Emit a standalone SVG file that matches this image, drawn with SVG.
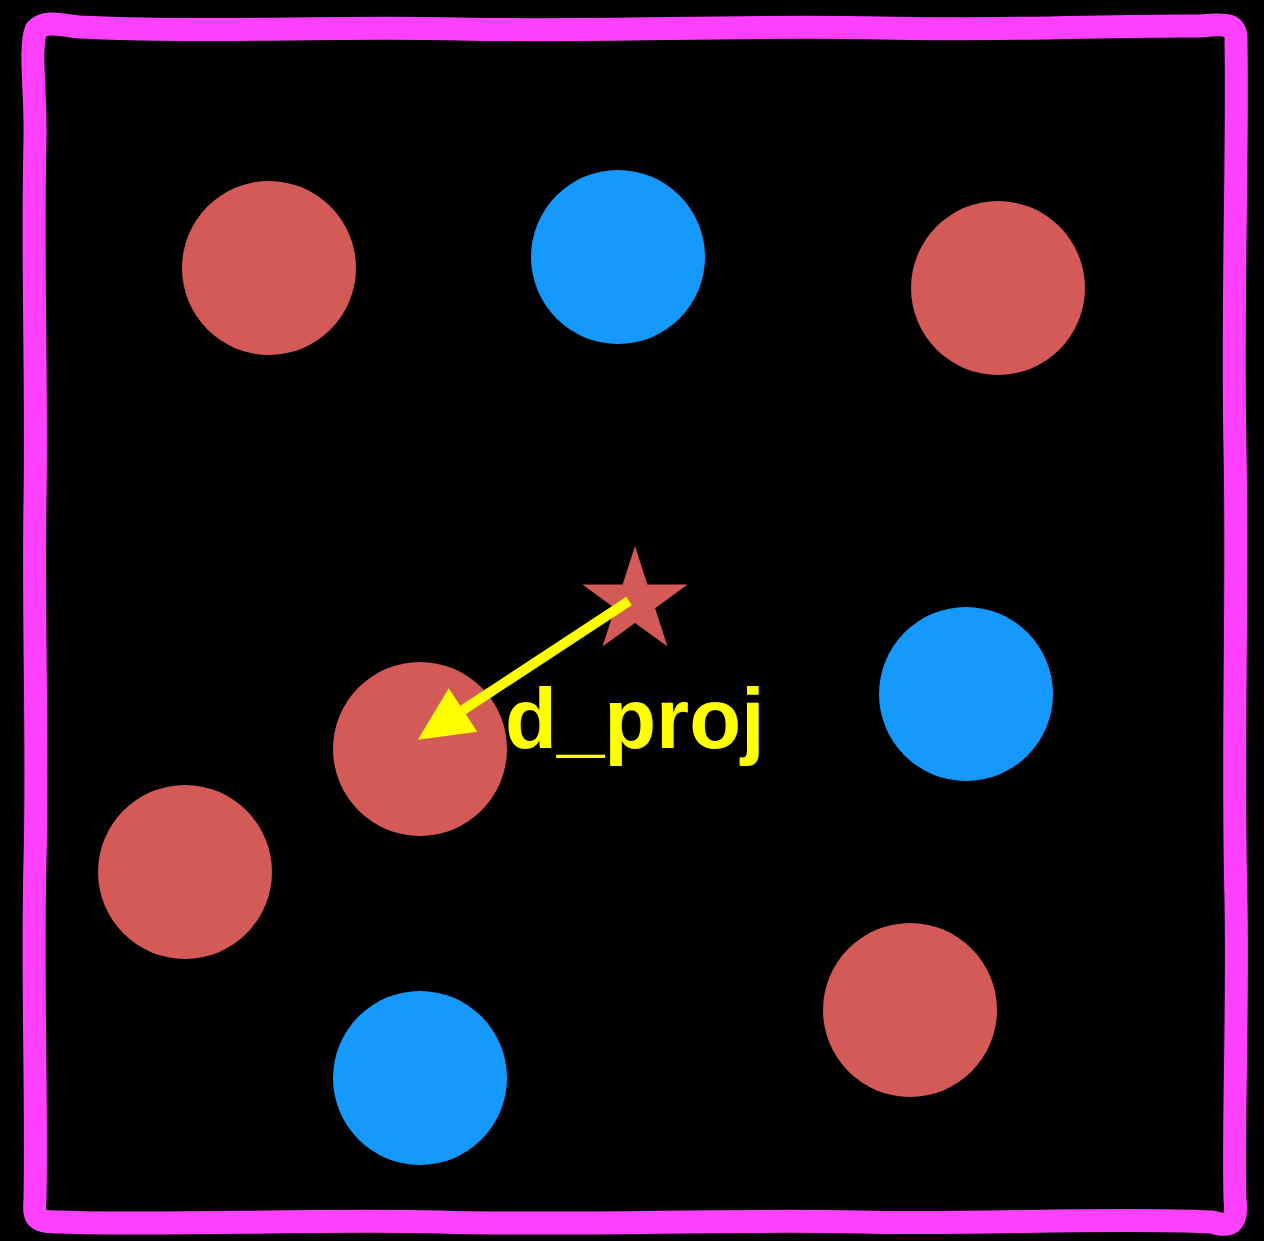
<svg xmlns="http://www.w3.org/2000/svg" width="1264" height="1241" viewBox="0 0 1264 1241">
<style>
.red{fill:#d45a57}
.blue{fill:#1599fc}
.frame{fill:none;stroke:#ff40ff;stroke-width:23;stroke-linejoin:round;stroke-linecap:round}
.lbl{font-family:"Liberation Sans",Arial,sans-serif;font-weight:bold;font-size:85px;fill:#ffff00}
</style>
<defs>
<marker id="ah" markerUnits="userSpaceOnUse" markerWidth="60" markerHeight="60" refX="0" refY="26" orient="auto" overflow="visible">
<path d="M0,0 L54,26 L0,52 Z" fill="#ffff00"/>
</marker>
</defs>
<rect width="1264" height="1241" fill="#000"/>
<path class="frame" d="M36,30 C45,20 60,25 80,27 C200,33 330,26 460,29 C600,32 740,25 880,28 C1000,31 1120,25 1200,26 C1228,23 1237,24 1236,42 C1238,150 1232,300 1235,450 C1238,600 1232,750 1236,900 C1238,1020 1233,1120 1235,1200 C1238,1224 1230,1228 1212,1222 C1100,1217 980,1225 860,1222 C720,1219 580,1226 440,1222 C300,1219 170,1226 60,1222 C38,1222 33,1220 35,1200 C37,1100 32,980 35,860 C38,740 33,620 35,500 C37,380 32,260 35,140 C36,90 29,50 36,30 Z"/>
<g id="nodes">
<g id="n1"><circle class="red" cx="269" cy="268" r="87"/></g>
<g id="n2"><circle class="blue" cx="618" cy="257" r="87"/></g>
<g id="n3"><circle class="red" cx="998" cy="288" r="87"/></g>
<g id="n4"><circle class="blue" cx="966" cy="694" r="87"/></g>
<g id="n5"><circle class="red" cx="420" cy="749" r="87"/></g>
<g id="n6"><circle class="red" cx="185" cy="872" r="87"/></g>
<g id="n7"><circle class="red" cx="910" cy="1010" r="87"/></g>
<g id="n8"><circle class="blue" cx="420" cy="1078" r="87"/></g>
<g id="star"><polygon class="red" points="635,546 647.4,584.5 687.6,584.5 655.1,608.3 667.5,646.5 635,622.9 602.5,646.5 614.9,608.3 582.4,584.5 622.6,584.5"/></g>
</g>
<g id="connectors">
<line x1="629" y1="601" x2="463" y2="710" stroke="#ffff00" stroke-width="10" marker-end="url(#ah)"/>
</g>
<text class="lbl" x="505" y="748">d_proj</text>
</svg>
